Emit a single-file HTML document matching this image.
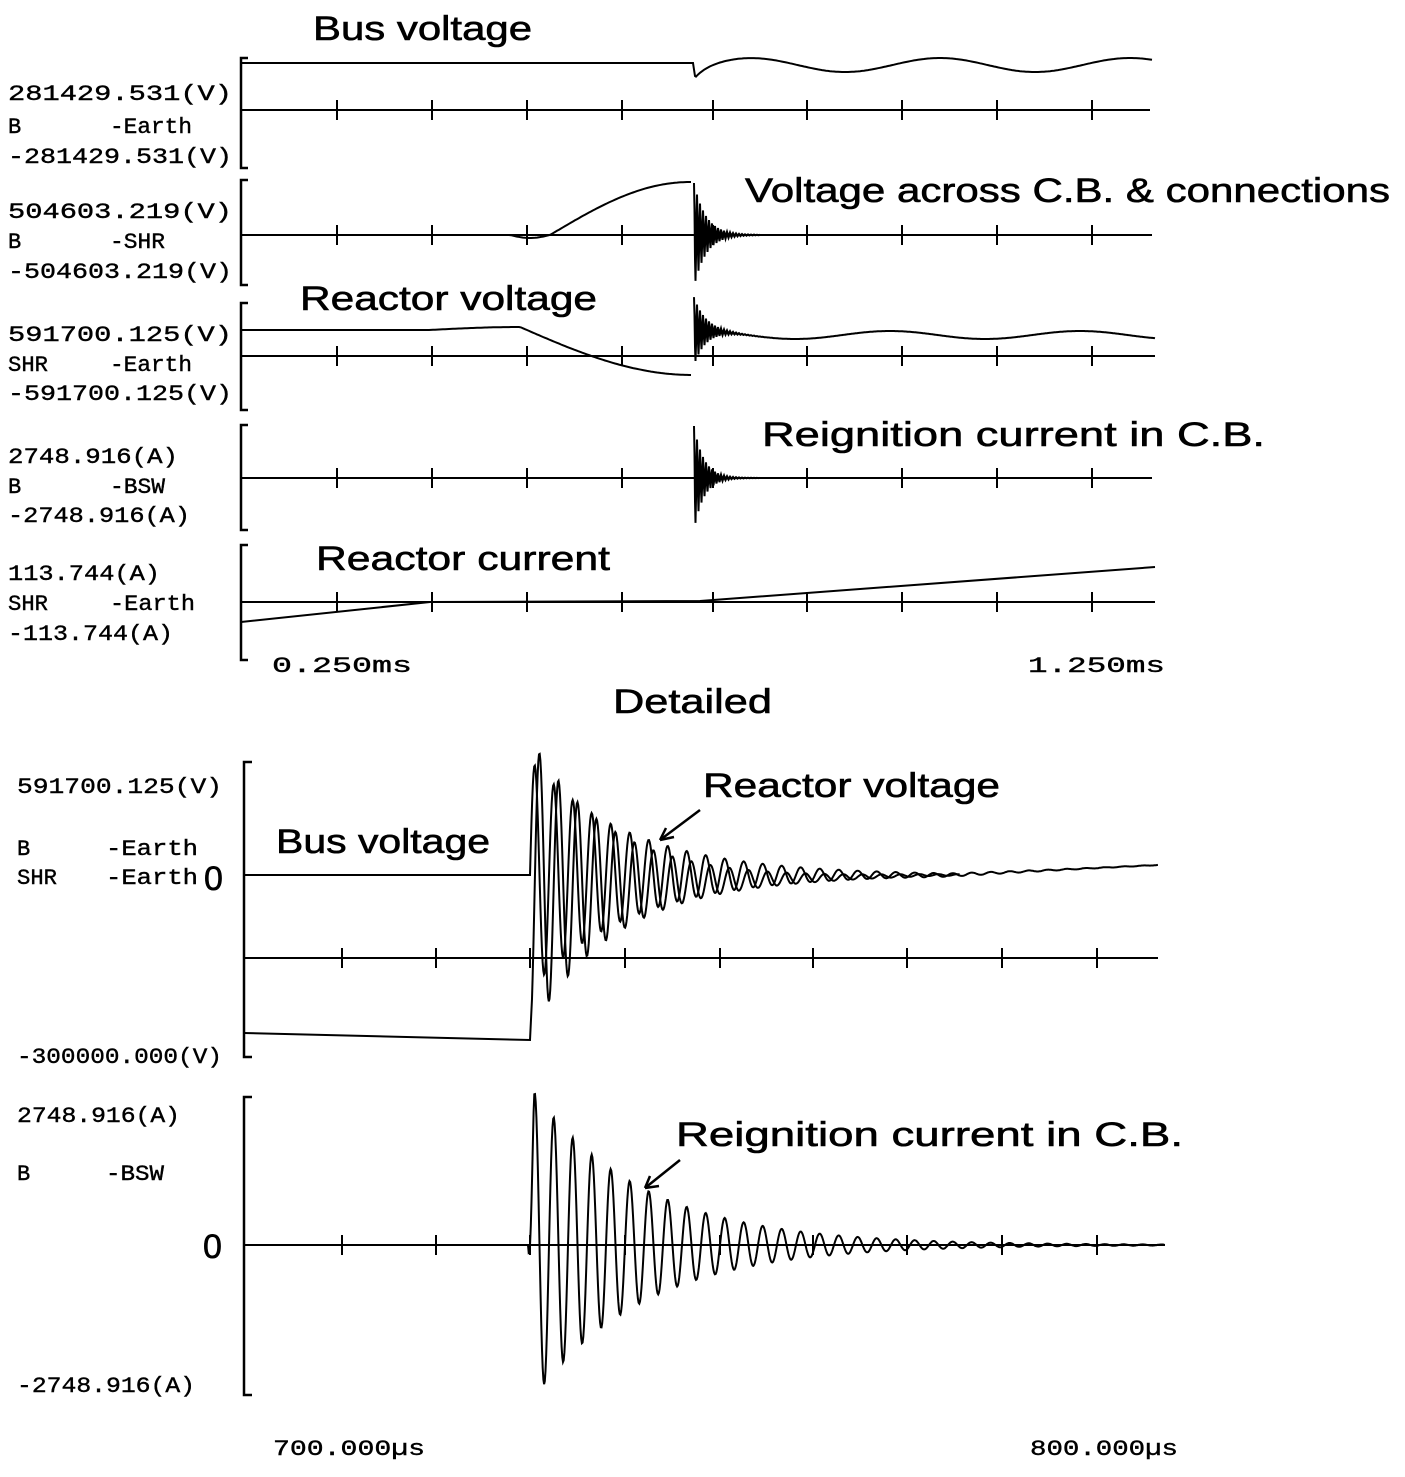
<!DOCTYPE html>
<html><head><meta charset="utf-8"><style>
html,body{margin:0;padding:0;background:#fff;}
svg{display:block}
text{font-family:"Liberation Mono","DejaVu Sans Mono",monospace;fill:#000;}
.t{font-family:"Liberation Sans Narrow","Liberation Sans",sans-serif;font-size:34px;stroke:#000;stroke-width:0.6;}
.l{font-size:22px;stroke:#000;stroke-width:0.4;}
</style></head><body>
<svg id="s" width="1405" height="1477" viewBox="0 0 1405 1477" xmlns="http://www.w3.org/2000/svg">
<g fill="none" stroke="#000" stroke-width="2.5">
<path d="M248,58 H241 V168 H248"/><path d="M248,180 H241 V285 H248"/>
<path d="M248,303 H241 V410 H248"/><path d="M248,425 H241 V530 H248"/>
<path d="M248,545 H241 V660 H248"/><path d="M252,762 H244 V1057 H252"/>
<path d="M252,1097 H244 V1395 H252"/>
<path d="M700,810 L660,840"/><path d="M660,840 l14,-3 M660,840 l6,-12"/>
<path d="M680,1160 L645,1188"/><path d="M645,1188 l14,-2 M645,1188 l5,-12"/>
</g>
<g id="tr" fill="none" stroke="#000" stroke-width="2"></g>

<text class="t" x="313" y="40" textLength="219" lengthAdjust="spacingAndGlyphs">Bus voltage</text>
<text class="t" x="745" y="202" textLength="645" lengthAdjust="spacingAndGlyphs">Voltage across C.B. &amp; connections</text>
<text class="t" x="300" y="310" textLength="297" lengthAdjust="spacingAndGlyphs">Reactor voltage</text>
<text class="t" x="762" y="446" textLength="503" lengthAdjust="spacingAndGlyphs">Reignition current in C.B.</text>
<text class="t" x="316" y="570" textLength="294" lengthAdjust="spacingAndGlyphs">Reactor current</text>
<text class="t" x="613" y="713" textLength="159" lengthAdjust="spacingAndGlyphs">Detailed</text>
<text class="t" x="276" y="853" textLength="214" lengthAdjust="spacingAndGlyphs">Bus voltage</text>
<text class="t" x="703" y="797" textLength="297" lengthAdjust="spacingAndGlyphs">Reactor voltage</text>
<text class="t" x="676" y="1146" textLength="507" lengthAdjust="spacingAndGlyphs">Reignition current in C.B.</text>
<text class="t" x="204" y="890">0</text>
<text class="t" x="203" y="1258">0</text>

<g class="l">
<text x="8" y="100" textLength="224" lengthAdjust="spacingAndGlyphs">281429.531(V)</text>
<text x="8" y="133">B</text><text x="110" y="133" textLength="82" lengthAdjust="spacingAndGlyphs">-Earth</text>
<text x="8" y="163" textLength="224" lengthAdjust="spacingAndGlyphs">-281429.531(V)</text>
<text x="8" y="218" textLength="224" lengthAdjust="spacingAndGlyphs">504603.219(V)</text>
<text x="8" y="248">B</text><text x="110" y="248" textLength="55" lengthAdjust="spacingAndGlyphs">-SHR</text>
<text x="8" y="278" textLength="224" lengthAdjust="spacingAndGlyphs">-504603.219(V)</text>
<text x="8" y="341" textLength="224" lengthAdjust="spacingAndGlyphs">591700.125(V)</text>
<text x="8" y="371" textLength="40" lengthAdjust="spacingAndGlyphs">SHR</text><text x="110" y="371" textLength="82" lengthAdjust="spacingAndGlyphs">-Earth</text>
<text x="8" y="400" textLength="224" lengthAdjust="spacingAndGlyphs">-591700.125(V)</text>
<text x="8" y="463" textLength="170" lengthAdjust="spacingAndGlyphs">2748.916(A)</text>
<text x="8" y="493">B</text><text x="110" y="493" textLength="55" lengthAdjust="spacingAndGlyphs">-BSW</text>
<text x="8" y="522" textLength="182" lengthAdjust="spacingAndGlyphs">-2748.916(A)</text>
<text x="8" y="580" textLength="152" lengthAdjust="spacingAndGlyphs">113.744(A)</text>
<text x="8" y="610" textLength="40" lengthAdjust="spacingAndGlyphs">SHR</text><text x="110" y="610" textLength="85" lengthAdjust="spacingAndGlyphs">-Earth</text>
<text x="8" y="640" textLength="165" lengthAdjust="spacingAndGlyphs">-113.744(A)</text>
<text x="272" y="672" textLength="140" lengthAdjust="spacingAndGlyphs">0.250ms</text>
<text x="1028" y="672" textLength="137" lengthAdjust="spacingAndGlyphs">1.250ms</text>
<text x="17" y="793" textLength="205" lengthAdjust="spacingAndGlyphs">591700.125(V)</text>
<text x="17" y="855">B</text><text x="106" y="855" textLength="92" lengthAdjust="spacingAndGlyphs">-Earth</text>
<text x="17" y="884" textLength="40" lengthAdjust="spacingAndGlyphs">SHR</text><text x="106" y="884" textLength="92" lengthAdjust="spacingAndGlyphs">-Earth</text>
<text x="17" y="1063" textLength="205" lengthAdjust="spacingAndGlyphs">-300000.000(V)</text>
<text x="17" y="1122" textLength="163" lengthAdjust="spacingAndGlyphs">2748.916(A)</text>
<text x="17" y="1180">B</text><text x="106" y="1180" textLength="58" lengthAdjust="spacingAndGlyphs">-BSW</text>
<text x="17" y="1392" textLength="178" lengthAdjust="spacingAndGlyphs">-2748.916(A)</text>
<text x="273" y="1455" textLength="152" lengthAdjust="spacingAndGlyphs">700.000µs</text>
<text x="1030" y="1455" textLength="148" lengthAdjust="spacingAndGlyphs">800.000µs</text>
</g>
</svg>
<script>
var g=document.getElementById('tr');
function add(d,w){var p=document.createElementNS('http://www.w3.org/2000/svg','path');p.setAttribute('d',d);if(w)p.setAttribute('stroke-width',w);g.appendChild(p);}
function axis(y,x0,x1,ticks){var d='M'+x0+','+y+'H'+x1;ticks.forEach(function(t){d+='M'+t+','+(y-10)+'V'+(y+10);});add(d);}
var T1=[337,432,527,622,713,807,902,997,1092];
axis(110,241,1150,T1);axis(235,241,1152,T1);axis(356,241,1155,T1);axis(478,241,1152,T1);axis(602,241,1155,T1);
var T2=[342,436,530,625,720,813,907,1002,1097];
axis(958,244,1158,T2);axis(1245,244,1165,T2);
function fn(f,x0,x1,st){var d='';for(var x=x0;x<=x1;x+=st){d+=(d?'L':'M')+x.toFixed(1)+','+f(x).toFixed(1);}return d;}
// panel1 bus voltage
add('M241,63H693L695,76'+fn(function(x){var b=65-7*Math.cos((x-750)*2*Math.PI/190);return b+11*Math.exp(-(x-695)/12);},696,1152,2).replace('M','L'));
// panel2
add(fn(function(x){if(x<510)return 235;if(x<550)return 235+3*Math.sin((x-510)/40*Math.PI);return 235-53*Math.sin((x-550)/140*Math.PI/2);},241,692,2));
add(fn(function(x){return 235-52*Math.exp(-(x-694)/12)*Math.cos((x-694)*2*Math.PI/3);},694,760,0.5),2);
// panel3
add(fn(function(x){if(x<430)return 330;return 330+ (x<520?-3*Math.sin((x-430)/90*Math.PI/2):0) + (x>=520?48*Math.sin((x-520)/173*Math.PI/2)-3:0);},241,692,2));
add(fn(function(x){var base=335-4*Math.cos((x-700)*2*Math.PI/190);return base-34*Math.exp(-(x-694)/12)*Math.cos((x-694)*2*Math.PI/3);},694,1155,0.5),2);
// panel4
add(fn(function(x){return 478-52*Math.exp(-(x-694)/10)*Math.cos((x-694)*2*Math.PI/3);},694,760,0.5),2);
// panel5
add('M241,622L430,602L700,601L1155,567');
// detail voltage
add('M244,875H530'+fn(function(x){return 875-115*Math.exp(-(x-530)/100)*Math.sin((x-530)*2*Math.PI/19)+(x>950?(-(x-950)/208*10):0);},530,1158,0.7).replace('M','L'));
add('M244,1033L530,1040'+fn(function(x){return 885 + 148*Math.exp(-(x-530)/80)*Math.cos((x-530)*2*Math.PI/19) - 10*Math.min(1,(x-530)/400);},532,960,0.7).replace('M','L'));
// detail current
add('M244,1245H528'+fn(function(x){return 1245-150*Math.exp(-(x-536)/110)*Math.sin((x-530)*2*Math.PI/19)*Math.min(1,(x-528)/6);},528,1165,0.7).replace('M','L'));
</script>
</body></html>
